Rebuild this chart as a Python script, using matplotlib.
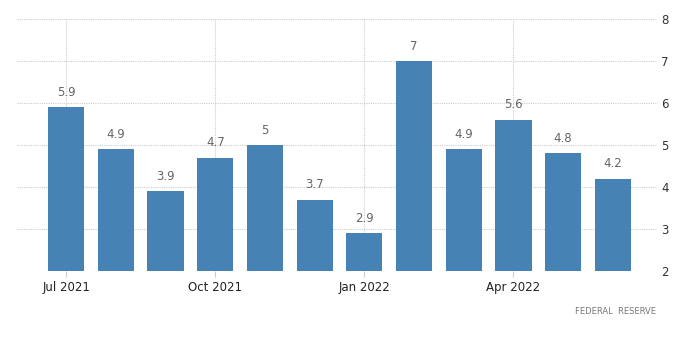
import matplotlib.pyplot as plt

months = ["Jul 2021", "Aug 2021", "Sep 2021", "Oct 2021", "Nov 2021", "Dec 2021",
          "Jan 2022", "Feb 2022", "Mar 2022", "Apr 2022", "May 2022", "Jun 2022"]
values = [5.9, 4.9, 3.9, 4.7, 5.0, 3.7, 2.9, 7.0, 4.9, 5.6, 4.8, 4.2]
value_labels = ["5.9", "4.9", "3.9", "4.7", "5", "3.7", "2.9", "7", "4.9", "5.6", "4.8", "4.2"]
shown_ticks = ["Jul 2021", "Oct 2021", "Jan 2022", "Apr 2022"]
y_ticks = [2, 3, 4, 5, 6, 7, 8]

fig = plt.figure(figsize=(7, 3.56), dpi=100)
ax = fig.add_axes([17 / 700, 1 - 271 / 356, (657 - 17) / 700, (271 - 19) / 356])

x = list(range(len(months)))
ax.bar(x, values, width=0.73, color="#4682b4", zorder=2, bottom=0)

for xi, v, lab in zip(x, values, value_labels):
    ax.annotate(lab, (xi, v), xytext=(0, 6), textcoords="offset points",
                ha="center", va="bottom", fontsize=8.5, color="#666666")

ax.set_ylim(2, 8)
ax.set_xlim(-0.99, 11.89)
ax.set_yticks(y_ticks)
ax.yaxis.tick_right()
ax.tick_params(axis="y", length=0, pad=3, labelsize=8.5, labelcolor="#333333")

tick_pos = [months.index(m) for m in shown_ticks]
ax.set_xticks(tick_pos)
ax.set_xticklabels(shown_ticks)
ax.tick_params(axis="x", length=4, color="#cccccc", labelsize=8.5, labelcolor="#222222", pad=3)

ax.grid(True, axis="both", linestyle=(0, (1, 1)), color="#cccccc", linewidth=0.8, zorder=0)
for s in ax.spines.values():
    s.set_visible(False)

fig.text(656 / 700, 1 - 311 / 356, "FEDERAL  RESERVE", ha="right", va="center",
         fontsize=6, color="#777777")

plt.savefig("out.png", dpi=100)
